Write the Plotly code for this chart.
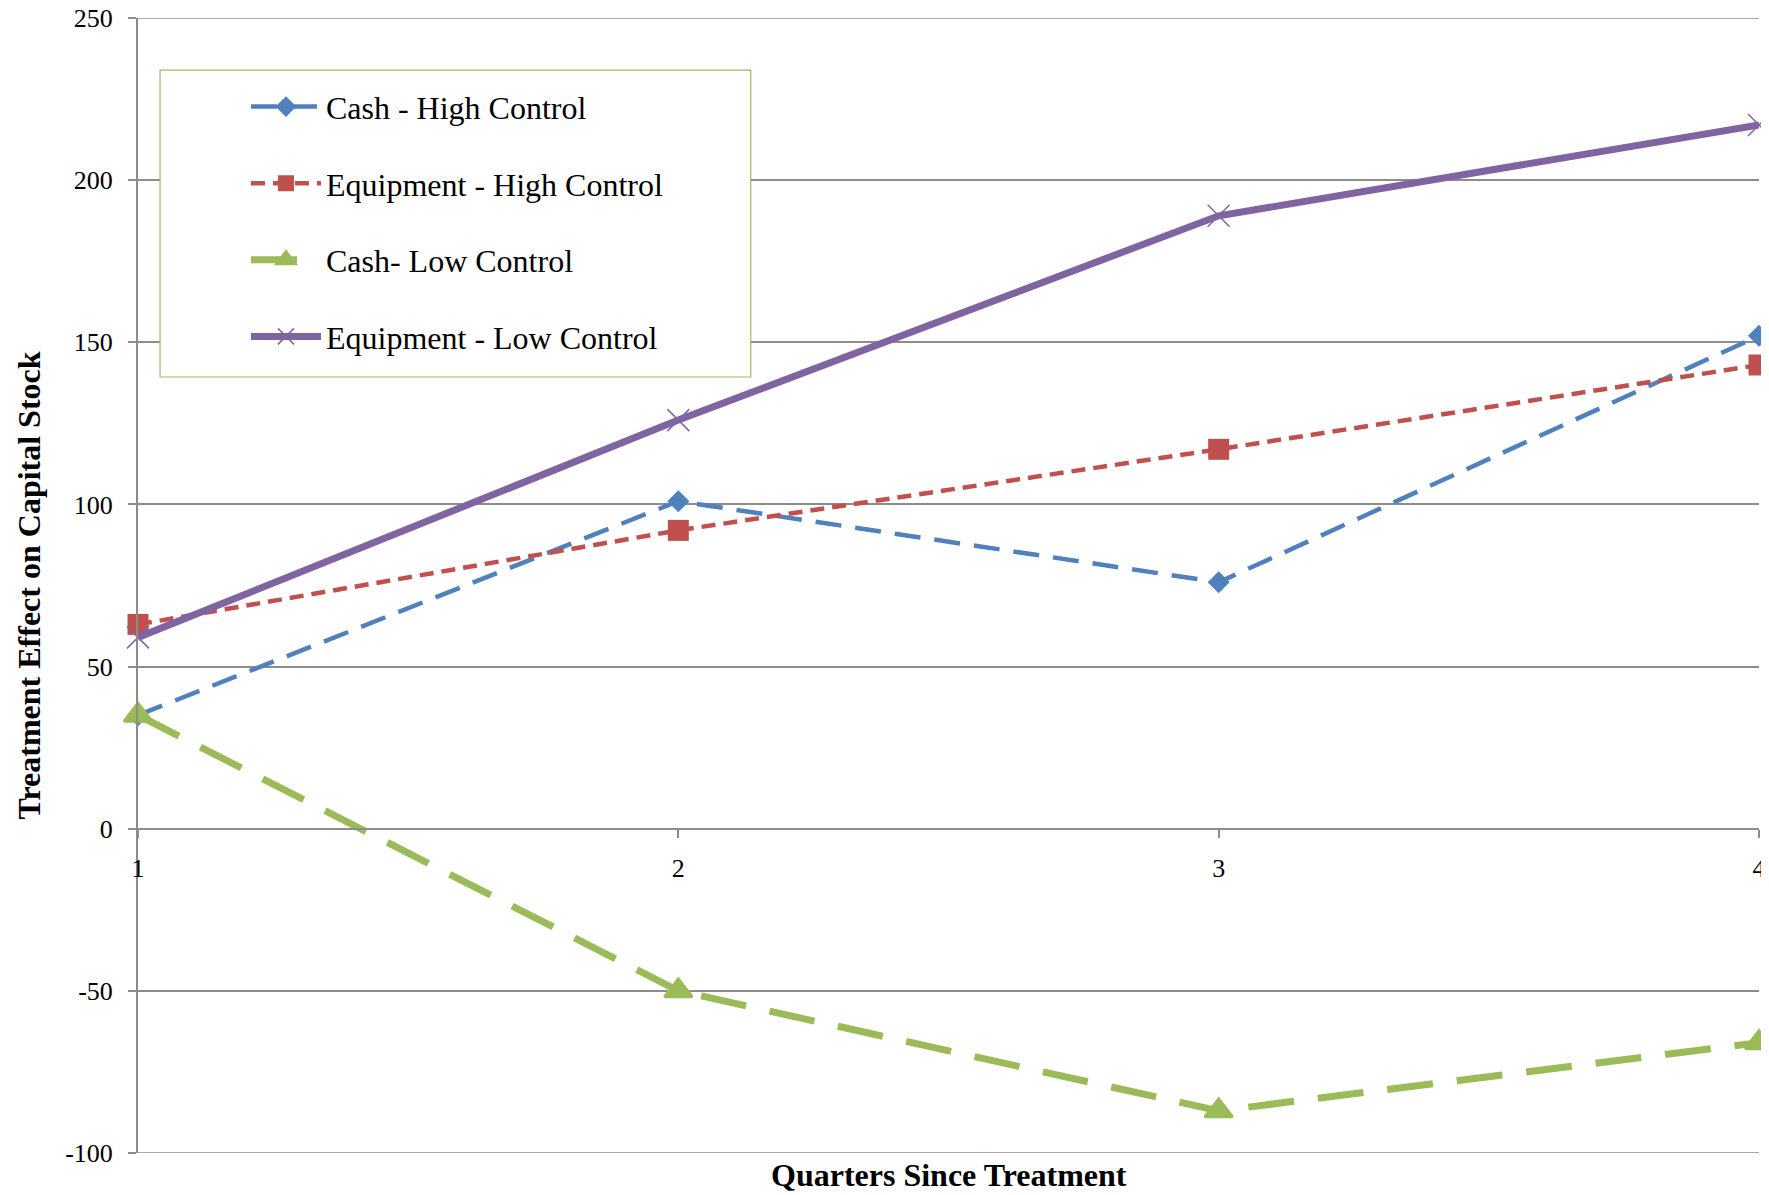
import plotly.graph_objects as go

quarters = [1, 2, 3, 4]
cash_high = [35, 101, 76, 152]
equip_high = [63, 92, 117, 143]
cash_low = [35, -50, -87, -66]
equip_low = [59, 126, 189, 217]
y_ticks = [-100, -50, 0, 50, 100, 150, 200, 250]
y_tick_text = ["-100", "-50", "0", "50", "100", "150", "200", "250"]

FONT = "Liberation Serif, Times New Roman, serif"
GRID = "#8c8c8c"

fig = go.Figure()
series = [
    ("Cash - High Control", cash_high, "#4F81BD", "26px,14px", 4.5, "diamond", 17, 0),
    ("Equipment - High Control", equip_high, "#C0504D", "14px,8px", 4.5, "square", 21, 0),
    ("Cash- Low Control", cash_low, "#9BBB59", "46px,24px", 7, "triangle-up", 24, 3),
    ("Equipment - Low Control", equip_low, "#8064A2", "solid", 7, "x-thin-open", 22, 1.5),
]
for name, vals, col, dash, w, sym, sz, mlw in series:
    fig.add_trace(go.Scatter(
        x=quarters, y=vals, name=name, mode="lines+markers",
        line=dict(color=col, width=w, dash=dash),
        marker=dict(symbol=sym, size=sz, color=col, line=dict(color=col, width=mlw)),
        legendgroup=name, cliponaxis=False,
    ))

# boundary gridlines (plotly omits gridlines lying on the plot-area edge)
for yv in (y_ticks[0], y_ticks[-1]):
    fig.add_shape(
        type="line", xref="paper", yref="y", x0=0, x1=1, y0=yv, y1=yv,
        line=dict(color=GRID, width=1.5), layer="below",
    )

# legend frame (white box with green border, drawn over the gridlines)
fig.add_shape(
    type="rect", xref="paper", yref="paper",
    x0=0.0136, x1=0.378, y0=0.6837, y1=0.954,
    fillcolor="white", line=dict(color="#9BBB59", width=1.2), layer="above",
)

# page body adds an 8px margin, so the figure is 8px smaller than the window
fig.update_layout(
    width=1761, height=1187,
    margin=dict(l=130, r=10, t=10, b=42, autoexpand=False),
    paper_bgcolor="white", plot_bgcolor="white",
    font=dict(family=FONT, color="black", size=26),
    showlegend=True,
    legend=dict(
        x=0.0666, y=0.946, xanchor="left", yanchor="top",
        bgcolor="rgba(0,0,0,0)", borderwidth=0,
        font=dict(family=FONT, size=32),
        itemwidth=70, tracegroupgap=32,
    ),
    xaxis=dict(
        range=[1, 4], tickvals=quarters, ticktext=[str(q) for q in quarters],
        showgrid=False, zeroline=False, automargin=False,
        showline=True, linecolor=GRID, linewidth=2,
        ticks="outside", ticklen=8, tickcolor=GRID, tickwidth=1.5,
        ticklabelstandoff=8, ticklabeloverflow="allow",
        anchor="free", position=100 / 350,
        tickfont=dict(family=FONT, size=26),
    ),
    yaxis=dict(
        range=[-100, 250], tickvals=y_ticks, ticktext=y_tick_text,
        showgrid=True, gridcolor=GRID, gridwidth=1.5,
        zeroline=False, automargin=False,
        showline=True, linecolor=GRID, linewidth=2,
        ticks="outside", ticklen=8, tickcolor=GRID, tickwidth=1.5,
        ticklabelstandoff=10, ticklabeloverflow="allow",
        tickfont=dict(family=FONT, size=26),
    ),
)
fig.add_annotation(
    text="<b>Quarters Since Treatment</b>", xref="paper", yref="paper",
    x=0.5, y=0, yshift=-22, xanchor="center", yanchor="middle",
    showarrow=False, font=dict(family=FONT, size=32),
)
fig.add_annotation(
    text="<b>Treatment Effect on Capital Stock</b>", xref="paper", yref="paper",
    x=0, y=0.5, xshift=-110, xanchor="center", yanchor="middle", textangle=-90,
    showarrow=False, font=dict(family=FONT, size=32),
)
fig.write_html("out.html")
